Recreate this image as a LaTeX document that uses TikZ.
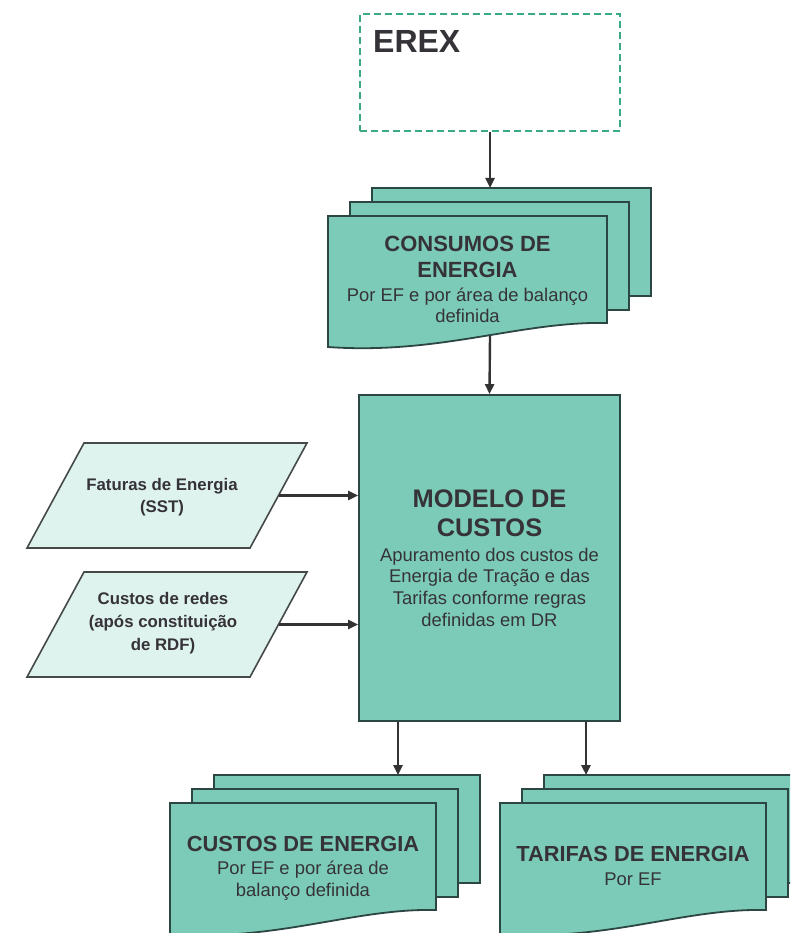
\documentclass[tikz,border=0pt]{standalone}
\usepackage{fontspec}
\setmainfont{Liberation Sans}
\usepackage{xcolor}
\usetikzlibrary{arrows.meta}

\definecolor{tealfill}{HTML}{7BCBB8}
\definecolor{sheetline}{HTML}{2C4643}
\definecolor{lightfill}{HTML}{DEF2EE}
\definecolor{paraline}{HTML}{454A49}
\definecolor{arrgray}{HTML}{333333}
\definecolor{txtgray}{HTML}{363338}
\definecolor{dashgreen}{HTML}{3AAA80}

\tikzset{
	sheet/.style={draw=sheetline, line width=1.8pt, fill=tealfill},
	inbox/.style={draw=paraline, line width=1.6pt, fill=lightfill},
	arr/.style={draw=arrgray, line width=2.4pt, -{Triangle[length=10pt, width=9pt]}},
	lbl/.style={align=center, text=txtgray, inner sep=0pt},
}

\begin{document}
\begin{tikzpicture}[x=1pt, y=-1pt]
				\clip (0,0) rectangle (790,933);
				\fill[white] (0,0) rectangle (790,933);
				\node[draw=dashgreen, line width=1.6pt, dash pattern=on 7pt off 4pt, minimum width=260pt, minimum height=117pt, inner sep=0pt] (erex) at (490,72.5) {};
				\node[lbl, anchor=base west, font=\bfseries\fontsize{32}{38}\selectfont] (erex title) at (373,53) {EREX};
				\foreach \x/\y/\w in {328/216/279, 170/803/266, 500/803/266} {
					\foreach \dx/\dy in {44/28, 22/14}
						\draw[sheet] (\x+\dx,\y-\dy) rectangle ++(\w,108);
					\draw[sheet] (\x,\y) -- (\x+\w,\y) -- (\x+\w,\y+107) .. controls (\x+0.69*\w,\y+105) and (\x+0.4*\w,\y+139) .. (\x,\y+131) -- cycle;
				}
				\coordinate (consumos top) at (490,188);
				\coordinate (consumos bottom) at (490,336);
				\coordinate (custos top) at (398,775);
				\coordinate (tarifas top) at (586,775);
				\node[lbl, font=\fontsize{18.4}{21}\selectfont] (consumos) at (467.5,279.5) {{\bfseries\fontsize{22}{26}\selectfont CONSUMOS DE}\\[5pt]{\bfseries\fontsize{22}{26}\selectfont ENERGIA}\\[3pt]Por EF e por área de balanço\\definida};
				\node[sheet, lbl, minimum width=261pt, minimum height=326pt, font=\fontsize{18.4}{21.7}\selectfont] (modelo) at (489.5,558) {{\bfseries\fontsize{25.4}{30}\selectfont MODELO DE}\\[7.3pt]{\bfseries\fontsize{25.4}{30}\selectfont CUSTOS}\\[3.3pt]Apuramento dos custos de\\Energia de Tração e das\\Tarifas conforme regras\\definidas em DR};
				\node[lbl, font=\fontsize{18.4}{22}\selectfont] (custos) at (303,868.5) {{\bfseries\fontsize{21.8}{26}\selectfont CUSTOS DE ENERGIA}\\[1pt]Por EF e por área de\\balanço definida};
				\node[lbl, font=\fontsize{18.4}{22}\selectfont] (tarifas) at (633,866) {{\bfseries\fontsize{21.8}{26}\selectfont TARIFAS DE ENERGIA}\\[2pt]Por EF};
				\draw[inbox] (27,548) -- (250,548) -- (307,443) -- (84,443) -- cycle;
				\draw[inbox] (27,677) -- (250,677) -- (307,572) -- (84,572) -- cycle;
				\coordinate (faturas out) at (278.5,495.5);
				\coordinate (redes out) at (278.5,624.5);
				\node[lbl, font=\bfseries\fontsize{16.8}{22}\selectfont] (faturas) at (162,497.6) {Faturas de Energia\\(SST)};
				\node[lbl, font=\bfseries\fontsize{16.8}{23}\selectfont] (redes) at (163,623.6) {Custos de redes\\(após constituição\\de RDF)};
				\draw[arr] (erex.south) -- (consumos top);
				\draw[arr] (consumos bottom) -- (modelo.north);
				\draw[arr] (faturas out) -- (faturas out -| modelo.west);
				\draw[arr] (redes out) -- (redes out -| modelo.west);
				\draw[arr] (modelo.south -| custos top) -- (custos top);
				\draw[arr] (modelo.south -| tarifas top) -- (tarifas top);
			\end{tikzpicture}
\end{document}
